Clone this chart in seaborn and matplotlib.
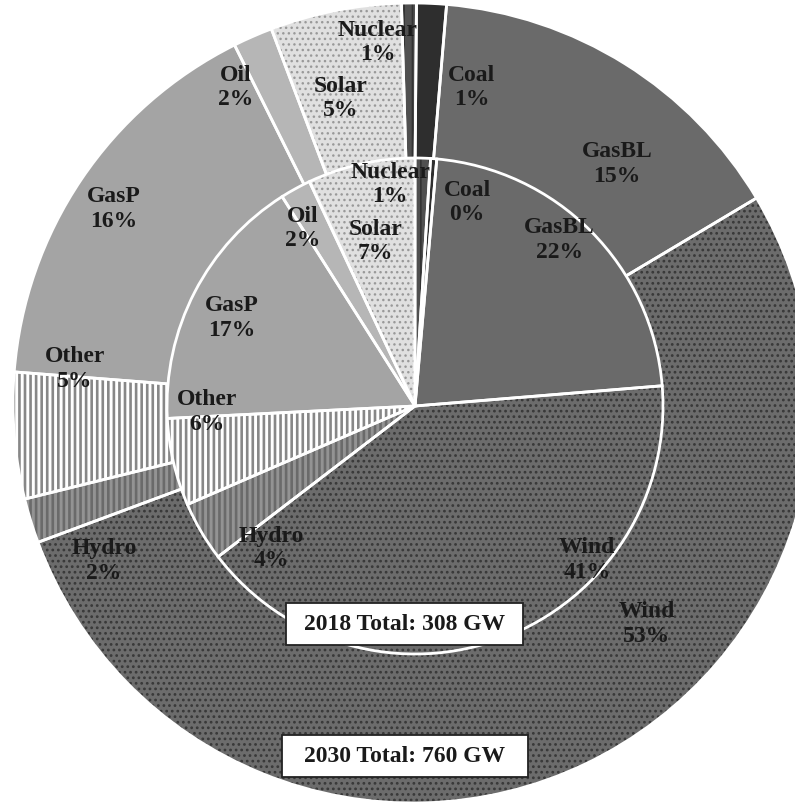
import matplotlib
matplotlib.use("Agg")
import matplotlib.pyplot as plt
from matplotlib.patches import Rectangle
import numpy as np
import seaborn as sns

# Installed capacity shares by source (percent), 2030 outer ring, 2018 inner pie
sources = ["Coal", "GasBL", "Wind", "Hydro", "Other", "GasP", "Oil", "Solar", "Nuclear"]
share_2030 = [1.2, 15.1, 52.9, 1.8, 5.1, 16.4, 1.6, 5.3, 0.6]
share_2018 = [0.4, 22.3, 40.9, 3.9, 5.7, 16.8, 2.0, 7.0, 1.0]
total_2018_gw = 308
total_2030_gw = 760

# Greyscale fills and patterns for each source
face_colors = ["#2e2e2e", "#6a6a6a", "#6c6c6c", "#939393", "#ffffff",
               "#a4a4a4", "#b6b6b6", "#e0e0e0", "#505050"]
hatch_colors = ["#2e2e2e", "#6a6a6a", "#383838", "#6a6a6a", "#878787",
                "#a4a4a4", "#b6b6b6", "#999999", "#333333"]
hatches = ["", "", "...", "|||", "|||", "", "", "...", "||"]
hatch_widths = [1.0, 1.0, 1.2, 1.9, 1.9, 1.0, 1.0, 1.0, 1.2]

# Label anchors: (clockwise angle from 12 o'clock in degrees, distance from centre in px)
outer_label_pos = [(10.5, 321), (40.5, 314), (133.4, 322), (242.9, 347), (275.7, 340),
                   (302.9, 357), (330.7, 362), (346.7, 313), (354.4, 362)]
inner_label_pos = [(14.4, 210), (41.1, 220), (131.8, 231), (225.2, 202), (268.3, 208),
                   (295.7, 203), (327.8, 210), (346.6, 169), (353.6, 223)]

W, H = 795, 802
sns.set_theme(style="white")
plt.rcParams["font.family"] = ["Liberation Serif", "DejaVu Serif"]
plt.rcParams["hatch.linewidth"] = 1.5

fig = plt.figure(figsize=(W / 100, H / 100), dpi=100)
ax = fig.add_axes([0, 0, 1, 1])

outer_center, outer_radius, outer_start = (413, H - 403), 400, 89.5
inner_center, inner_radius, inner_start = (415, H - 406), 248, 86.4


def draw_ring(values, center, radius, start):
    wedges, _ = ax.pie(values, radius=radius, center=center, startangle=start,
                       counterclock=False, colors=face_colors, hatch=hatches,
                       wedgeprops=dict(linewidth=0))
    for w, hc, hw in zip(wedges, hatch_colors, hatch_widths):
        w.set_edgecolor(hc)
        w.set_linewidth(0)
        if hasattr(w, "set_hatch_linewidth"):
            w.set_hatch_linewidth(hw)
    # white separators between slices
    ax.pie(values, radius=radius, center=center, startangle=start,
           counterclock=False,
           wedgeprops=dict(linewidth=2.0, edgecolor="white", fill=False))
    return wedges


def draw_labels(values, center, positions):
    for name, v, (ang, r) in zip(sources, values, positions):
        t = np.deg2rad(ang)
        x = center[0] + r * np.sin(t)
        y = center[1] + r * np.cos(t)
        ax.text(x, y, f"{name}\n{v:.0f}%", ha="center", va="center",
                fontsize=17, fontweight="bold", color="#1a1a1a",
                linespacing=1.22, zorder=10)


draw_ring(share_2030, outer_center, outer_radius, outer_start)
draw_ring(share_2018, inner_center, inner_radius, inner_start)
draw_labels(share_2030, outer_center, outer_label_pos)
draw_labels(share_2018, inner_center, inner_label_pos)


def total_box(text, cx, cy, w, h):
    ax.add_patch(Rectangle((cx - w / 2, cy - h / 2), w, h, facecolor="white",
                           edgecolor="#222222", linewidth=1.3, zorder=11))
    ax.text(cx, cy, text, ha="center", va="center", fontsize=17,
            fontweight="bold", color="#1a1a1a", zorder=12)


total_box(f"2018 Total: {total_2018_gw} GW", 404.5, H - 624, 237, 42)
total_box(f"2030 Total: {total_2030_gw} GW", 405, H - 756, 246, 42)

ax.set_xlim(0, W)
ax.set_ylim(0, H)
ax.set_aspect("equal")
ax.axis("off")

fig.savefig("out.png", dpi=100, facecolor="white")
